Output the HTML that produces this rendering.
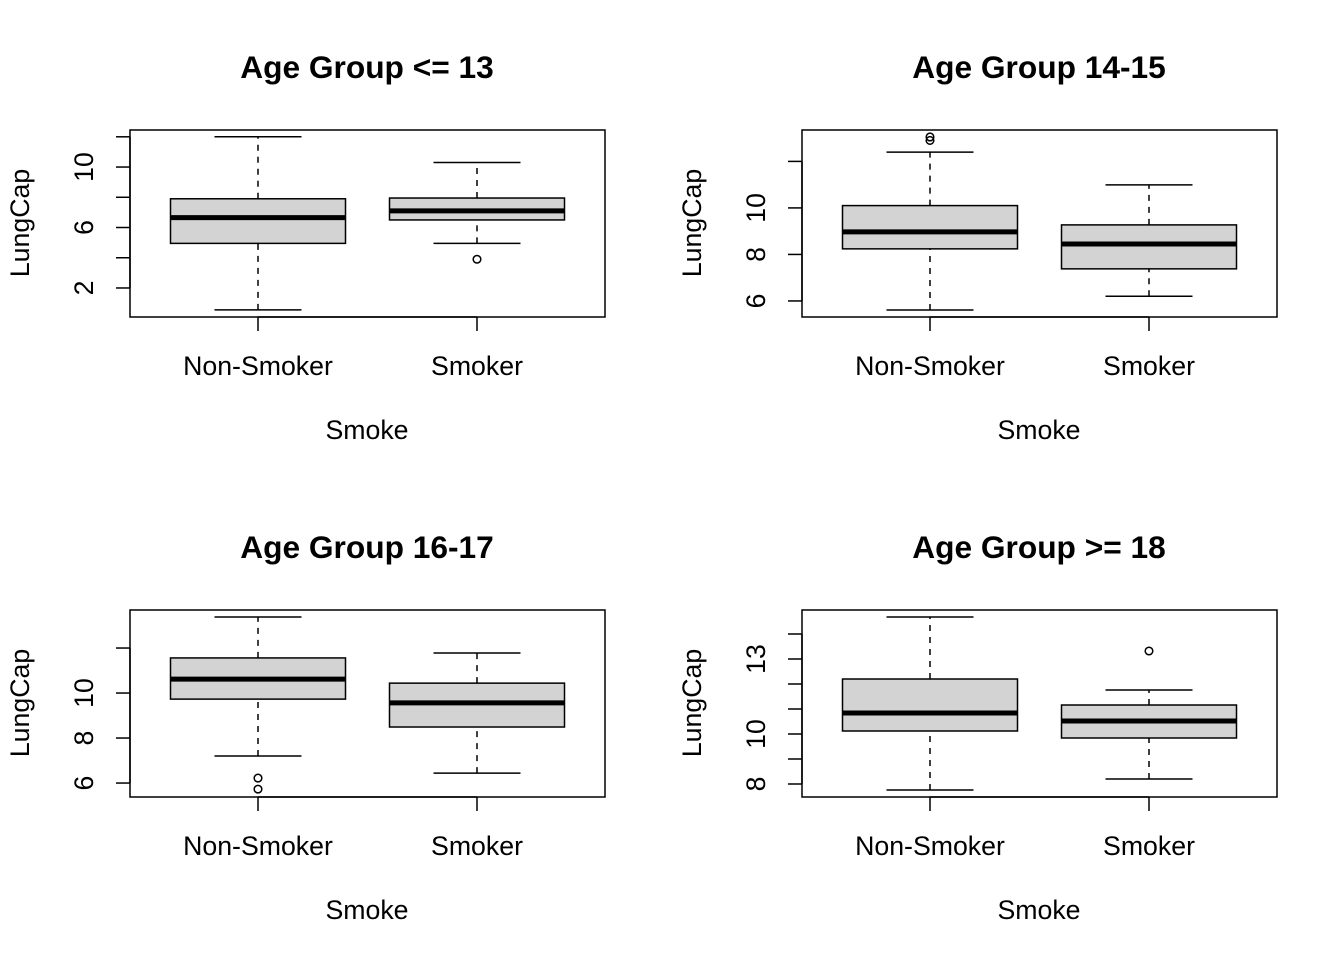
<!DOCTYPE html>
<html><head><meta charset="utf-8"><style>
html,body{margin:0;padding:0;background:#fff;}
svg{display:block;font-family:"Liberation Sans",Arial,sans-serif;}
</style></head><body>
<svg id="chart" width="1344" height="960" viewBox="0 0 1344 960" xmlns="http://www.w3.org/2000/svg"></svg>
<script>
const titles = ["Age Group <= 13","Age Group 14-15","Age Group 16-17","Age Group >= 18"];
const categories = ["Non-Smoker","Smoker"];
// [low whisker, q1, median, q3, high whisker]
const statsP1 = [[0.55,4.95,6.65,7.9,12.0],[4.95,6.5,7.1,7.95,10.3]];
const statsP2 = [[5.61,8.24,8.97,10.1,12.4],[6.2,7.38,8.45,9.27,10.99]];
const statsP3 = [[7.2,9.73,10.62,11.56,13.38],[6.44,8.49,9.56,10.44,11.78]];
const statsP4 = [[7.76,10.12,10.84,12.2,14.68],[8.2,9.84,10.52,11.16,11.76]];
const outliersP1 = [[],[3.9]];
const outliersP2 = [[13.05,12.9],[]];
const outliersP3 = [[6.22,5.73],[]];
const outliersP4 = [[],[13.32]];
const yDomains = [[0.08,12.45],[5.31,13.35],[5.38,13.69],[7.48,14.96]];
const minorTicks = [[2,4,6,8,10,12],[6,8,10,12],[6,8,10,12],[8,9,10,11,12,13,14]];
const labelTicks = [[2,6,10],[6,8,10],[6,8,10],[8,10,13]];
const allStats=[statsP1,statsP2,statsP3,statsP4];
const allOut=[outliersP1,outliersP2,outliersP3,outliersP4];
const svg=document.getElementById('chart');
const NS="http://www.w3.org/2000/svg";
function mk(tag,attrs,parent,text){const e=document.createElementNS(NS,tag);for(const k in attrs)e.setAttribute(k,attrs[k]);if(text!==undefined)e.textContent=text;parent.appendChild(e);return e;}
for(let p=0;p<4;p++){
  const ox=(p%2)*672, oy=Math.floor(p/2)*480;
  const g=mk('g',{},svg);
  
  
  const L=130+ox,R=605+ox,T=130+oy,B=317+oy;
  const [d0,d1]=yDomains[p];
  const y=v=>B-(v-d0)/(d1-d0)*(B-T);
  const xs=[258+ox,477+ox];
  const t=mk('text',{x:367+ox,y:78+oy,'text-anchor':'middle','font-size':31.7,'font-weight':'bold'},g,titles[p]);
  
  
  allStats[p].forEach((s,i)=>{
    const bg=mk('g',{},g);
    
    
    const x=xs[i];
    mk('line',{x1:x,x2:x,y1:y(s[0]),y2:y(s[1]),stroke:'#000','stroke-width':1.5,'stroke-dasharray':'6,6'},bg);
    mk('line',{x1:x,x2:x,y1:y(s[3]),y2:y(s[4]),stroke:'#000','stroke-width':1.5,'stroke-dasharray':'6,6'},bg);
    mk('line',{x1:x-43.5,x2:x+43.5,y1:y(s[0]),y2:y(s[0]),stroke:'#000','stroke-width':1.5},bg);
    mk('line',{x1:x-43.5,x2:x+43.5,y1:y(s[4]),y2:y(s[4]),stroke:'#000','stroke-width':1.5},bg);
    mk('rect',{x:x-87.5,y:y(s[3]),width:175,height:y(s[1])-y(s[3]),fill:'#d3d3d3',stroke:'#000','stroke-width':1.5},bg);
    mk('line',{x1:x-87.5,x2:x+87.5,y1:y(s[2]),y2:y(s[2]),stroke:'#000','stroke-width':5},bg);
    allOut[p][i].forEach(v=>{
      const c=mk('circle',{cx:x,cy:y(v),r:3.8,fill:'none',stroke:'#000','stroke-width':1.5},bg);
      
      
    });
  });
  const frame=mk('rect',{x:L,y:T,width:R-L,height:B-T,fill:'none',stroke:'#000','stroke-width':1.5},g);
  
  
  const ya=mk('g',{},g);
  
  
  const mt=minorTicks[p];
  mk('line',{x1:L,x2:L,y1:y(mt[0]),y2:y(mt[mt.length-1]),stroke:'#000','stroke-width':1.5},ya);
  mt.forEach(v=>mk('line',{x1:L-14,x2:L,y1:y(v),y2:y(v),stroke:'#000','stroke-width':1.5},ya));
  labelTicks[p].forEach(v=>{
    mk('text',{x:0,y:0,transform:`translate(${93+ox},${y(v)}) rotate(-90)`,'text-anchor':'middle','font-size':26.7},ya,String(v));
  });
  const yt=mk('text',{x:0,y:0,transform:`translate(${29+ox},${223+oy}) rotate(-90)`,'text-anchor':'middle','font-size':26.7},g,'LungCap');
  
  
  const xa=mk('g',{},g);
  
  
  mk('line',{x1:xs[0],x2:xs[1],y1:B,y2:B,stroke:'#000','stroke-width':1.5},xa);
  xs.forEach((x,i)=>{
    mk('line',{x1:x,x2:x,y1:B,y2:B+14,stroke:'#000','stroke-width':1.5},xa);
    mk('text',{x:x,y:375+oy,'text-anchor':'middle','font-size':26.7},xa,categories[i]);
  });
  const xt=mk('text',{x:367+ox,y:439+oy,'text-anchor':'middle','font-size':26.7},g,'Smoke');
  
  
}
</script>
</body></html>
